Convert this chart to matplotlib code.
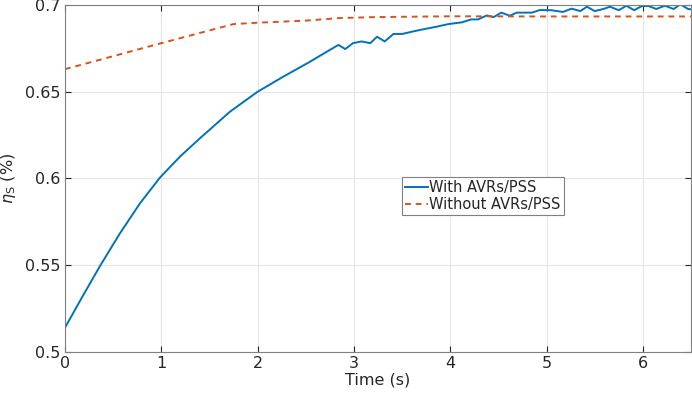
import matplotlib
matplotlib.use('Agg')
import matplotlib.pyplot as plt
import numpy as np

# blue curve, with AVRs/PSS
t_avr = [0.0, 0.18, 0.363, 0.571, 0.779, 0.986, 1.194, 1.402, 1.506, 1.713, 2.0,
         2.267, 2.544, 2.75, 2.84, 2.91, 2.99, 3.08, 3.17, 3.24, 3.32, 3.41, 3.50,
         3.65, 3.72, 3.86, 3.98, 4.12, 4.22, 4.29, 4.38, 4.45, 4.53, 4.62, 4.69,
         4.85, 4.93, 5.05, 5.17, 5.26, 5.35, 5.42, 5.50, 5.59, 5.66, 5.75, 5.83,
         5.91, 5.99, 6.06, 6.14, 6.23, 6.32, 6.39, 6.47, 6.5]
eta_avr = [0.514, 0.5318, 0.5495, 0.5684, 0.5857, 0.6005, 0.6126, 0.6232, 0.6283,
           0.6385, 0.650, 0.6587, 0.6673, 0.6741, 0.677, 0.6746, 0.678, 0.679,
           0.678, 0.6817, 0.679, 0.6833, 0.6833, 0.6852, 0.686, 0.6875, 0.689,
           0.690, 0.6917, 0.6917, 0.694, 0.693, 0.6956, 0.6938, 0.6956, 0.6956,
           0.6971, 0.697, 0.696, 0.6979, 0.6965, 0.699, 0.6965, 0.6977, 0.699,
           0.697, 0.6996, 0.697, 0.6994, 0.6994, 0.6977, 0.6996, 0.6977, 0.7004,
           0.6977, 0.6975]

# red dashed curve, without AVRs/PSS
t_no = [0.0, 1.0, 1.75, 2.0, 2.5, 2.86, 3.2, 3.5, 4.0, 5.0, 6.5]
eta_no = [0.663, 0.678, 0.689, 0.6898, 0.691, 0.6925, 0.693, 0.6932, 0.6935, 0.6934, 0.6934]

txt = '#262626'
plt.rcParams['font.family'] = 'DejaVu Sans'
plt.rcParams['mathtext.fontset'] = 'dejavusans'

fig = plt.figure(figsize=(6.92, 3.97), dpi=100)
ax = fig.add_axes([0.0939, 0.1134, 0.9046, 0.874])

ax.plot(t_avr, eta_avr, color='#0072BD', lw=1.4, label='With AVRs/PSS')
ax.plot(t_no, eta_no, color='#D95319', lw=1.4, ls=(0, (3, 2.5)), label='Without AVRs/PSS')

ax.set_xlim(0, 6.5)
ax.set_ylim(0.5, 0.7)
ax.set_xticks([0, 1, 2, 3, 4, 5, 6])
ax.set_yticks([0.5, 0.55, 0.6, 0.65, 0.7])
ax.set_yticklabels(['0.5', '0.55', '0.6', '0.65', '0.7'])
ax.grid(True, color='#e6e6e6', lw=0.8)
ax.set_axisbelow(True)
ax.tick_params(direction='in', length=4, colors=txt, labelsize=11.5,
               top=True, right=True, width=0.8, pad=3)
for s in ax.spines.values():
    s.set_color('#808080')
    s.set_linewidth(0.8)

ax.set_xlabel('Time (s)', color=txt, fontsize=11.5, labelpad=1)
ax.set_ylabel(r'$\eta_{\rm S}$ (%)', color=txt, fontsize=11.5, labelpad=5)

leg = ax.legend(loc='upper left', bbox_to_anchor=(0.538, 0.503), fontsize=10.5,
                handlelength=1.6, handletextpad=0.1, borderpad=0.2,
                labelspacing=0.1, fancybox=False, framealpha=1, borderaxespad=0)
leg.get_frame().set_edgecolor('#808080')
leg.get_frame().set_linewidth(0.8)
for tx in leg.get_texts():
    tx.set_color(txt)

fig.savefig('out.png', dpi=100)
